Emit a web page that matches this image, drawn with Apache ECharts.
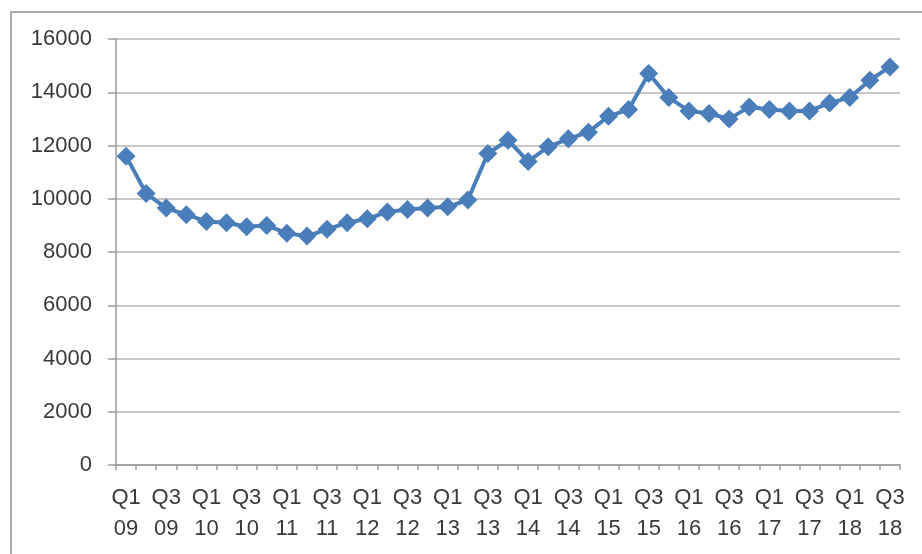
<!DOCTYPE html>
<html>
<head>
<meta charset="utf-8">
<script src="https://cdn.jsdelivr.net/npm/echarts@6/dist/echarts.min.js"></script>
<style>
  html, body { margin: 0; padding: 0; background: #ffffff; }
  #chart { width: 922px; height: 554px; }
</style>
</head>
<body>
<div id="chart"></div>
<script>
// Quarterly categories, Q1 2009 – Q3 2018
const quarters = [
  'Q1 09','Q2 09','Q3 09','Q4 09',
  'Q1 10','Q2 10','Q3 10','Q4 10',
  'Q1 11','Q2 11','Q3 11','Q4 11',
  'Q1 12','Q2 12','Q3 12','Q4 12',
  'Q1 13','Q2 13','Q3 13','Q4 13',
  'Q1 14','Q2 14','Q3 14','Q4 14',
  'Q1 15','Q2 15','Q3 15','Q4 15',
  'Q1 16','Q2 16','Q3 16','Q4 16',
  'Q1 17','Q2 17','Q3 17','Q4 17',
  'Q1 18','Q2 18','Q3 18'
];

// Series values per quarter
const values = [
  11600, 10200, 9650, 9400,
  9150, 9100, 8950, 9000,
  8700, 8600, 8850, 9100,
  9250, 9500, 9600, 9650,
  9700, 9950, 11700, 12200,
  11400, 11950, 12250, 12500,
  13100, 13350, 14700, 13800,
  13300, 13200, 13000, 13450,
  13350, 13300, 13300, 13600,
  13800, 14450, 14950
];

// Value axis range
const yMin = 0;
const yMax = 16000;
const yStep = 2000;

const textColor = '#3a3a3a';
const fontFamily = '"Liberation Sans", Arial, sans-serif';

const chart = echarts.init(document.getElementById('chart'), null, { renderer: 'canvas' });

chart.setOption({
  animation: false,
  backgroundColor: '#ffffff',
  graphic: [{
    type: 'rect',
    shape: { x: 11, y: 12, width: 960, height: 600 },
    style: { fill: 'none', stroke: '#a9a9a9', lineWidth: 2 },
    silent: true,
    z: -1
  }],
  grid: { left: 116, right: 22, top: 39, bottom: 89, containLabel: false },
  xAxis: {
    type: 'category',
    data: quarters,
    boundaryGap: true,
    axisLine: { show: true, lineStyle: { color: '#9a9a9a', width: 1.5 } },
    axisTick: { show: true, interval: 0, length: 5, lineStyle: { color: '#9a9a9a', width: 1.5 } },
    axisLabel: {
      interval: 1,
      margin: 17,
      color: textColor,
      fontFamily: fontFamily,
      fontSize: 22,
      lineHeight: 31,
      formatter: v => v.replace(' ', '\n')
    },
    splitLine: { show: false }
  },
  yAxis: {
    type: 'value',
    min: yMin,
    max: yMax,
    interval: yStep,
    axisLine: { show: true, lineStyle: { color: '#9a9a9a', width: 1.5 } },
    axisTick: { show: true, length: 8, lineStyle: { color: '#9a9a9a', width: 1.5 } },
    axisLabel: {
      margin: 24,
      color: textColor,
      fontFamily: fontFamily,
      fontSize: 22,
      formatter: v => String(v)
    },
    splitLine: { show: true, lineStyle: { color: '#b4b4b4', width: 1.5 } }
  },
  series: [{
    type: 'line',
    data: values,
    symbol: 'diamond',
    symbolSize: 19,
    showAllSymbol: true,
    lineStyle: { color: '#4a7ebb', width: 4 },
    itemStyle: { color: '#4a7ebb' }
  }]
});
</script>
</body>
</html>
